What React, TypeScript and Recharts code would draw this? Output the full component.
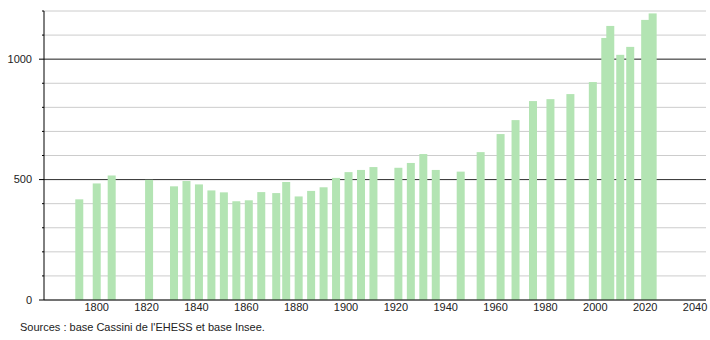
import { BarChart, Bar, XAxis, YAxis, CartesianGrid } from 'recharts';

const years = [
  1793, 1800, 1806, 1821, 1831, 1836, 1841, 1846, 1851, 1856, 1861, 1866, 1872,
  1876, 1881, 1886, 1891, 1896, 1901, 1906, 1911, 1921, 1926, 1931, 1936, 1946,
  1954, 1962, 1968, 1975, 1982, 1990, 1999, 2004, 2006, 2010, 2014, 2020, 2023,
];
const population = [
  418, 484, 517, 499, 472, 494, 480, 455, 447, 410, 414, 448, 444,
  490, 430, 453, 468, 507, 531, 540, 552, 549, 569, 606, 540, 533,
  614, 689, 747, 826, 834, 855, 905, 1088, 1138, 1018, 1051, 1163, 1190,
];
const xTicks = [1800, 1820, 1840, 1860, 1880, 1900, 1920, 1940, 1960, 1980, 2000, 2020, 2040];
const yTicks = [0, 100, 200, 300, 400, 500, 600, 700, 800, 900, 1000, 1100, 1200];
const majorTicks = [0, 500, 1000];

const data = years.map((year, i) => ({ year, pop: population[i] }));

const FONT = '"Liberation Sans", Arial, sans-serif';
const BAR_W = 8;

function YTick(props: any) {
  const { x, y, payload } = props;
  const major = majorTicks.includes(payload.value);
  return (
    <g>
      <line x1={x + (major ? 7 : 10)} x2={x + 12} y1={y} y2={y} stroke="#000" strokeWidth={1} />
      {major && (
        <text x={x} y={y} dy="0.355em" textAnchor="end" fontSize={11} fill="#222" fontFamily={FONT}>
          {payload.value}
        </text>
      )}
    </g>
  );
}

// numeric axis squeezes bars to the smallest year gap, so widen them around their centre
function WideBar(props: any) {
  const { x, y, width, height } = props;
  if (!height) return null;
  const cx = x + width / 2;
  return <rect x={cx - BAR_W / 2} y={y} width={BAR_W} height={height} fill="#b3e4b3" />;
}

export default function App() {
  return (
    <div style={{ position: 'absolute', left: 0, top: 0, width: 710, height: 340, background: '#fff' }}>
      <BarChart
        width={710}
        height={340}
        data={data}
        margin={{ top: 11, right: 4, left: 0, bottom: 20 }}
      >
        <CartesianGrid vertical={false} horizontalValues={yTicks} stroke="#cccccc" />
        <CartesianGrid vertical={false} horizontalValues={[500, 1000]} stroke="#333333" />
        <XAxis
          dataKey="year"
          type="number"
          domain={[1778.85, 2044.4]}
          allowDataOverflow
          ticks={xTicks}
          interval={0}
          height={20}
          tickLine={false}
          tickSize={0}
          tickMargin={3}
          axisLine={{ stroke: '#000' }}
          tick={{ fontSize: 11, fill: '#222', fontFamily: FONT }}
        />
        <YAxis
          type="number"
          domain={[0, 1200]}
          ticks={yTicks}
          interval={0}
          width={44}
          tickLine={false}
          tickSize={6}
          tickMargin={6}
          axisLine={{ stroke: '#000' }}
          tick={<YTick />}
        />
        <Bar dataKey="pop" fill="#b3e4b3" shape={<WideBar />} isAnimationActive={false} />
      </BarChart>
      <div
        style={{
          position: 'absolute',
          left: 20,
          top: 321,
          fontSize: 11,
          fontFamily: FONT,
          color: '#222',
          whiteSpace: 'nowrap',
        }}
      >
        Sources : base Cassini de l'EHESS et base Insee.
      </div>
    </div>
  );
}
